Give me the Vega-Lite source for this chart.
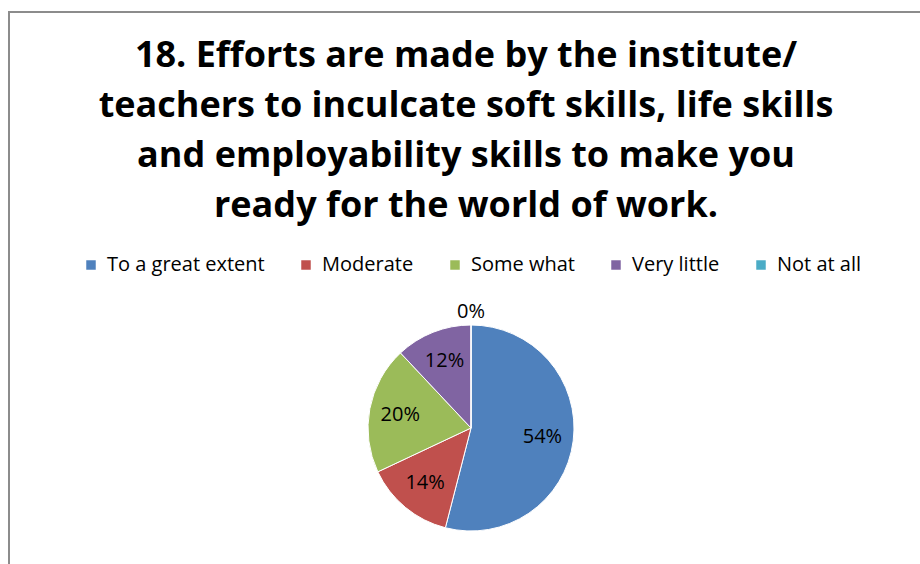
{
  "$schema": "https://vega.github.io/schema/vega-lite/v6.json",
  "autosize": {"type": "fit", "contains": "padding"},
  "width": 920,
  "height": 564,
  "padding": {"left": 8, "top": 11, "right": -4, "bottom": -4},
  "background": "white",
  "config": {
    "view": {"stroke": null},
    "font": "Open Sans"
  },
  "title": {
    "text": ["18. Efforts are made by the institute/", "teachers to inculcate soft skills, life skills", "and employability skills to make you", "ready for the world of work."],
    "font": "Open Sans",
    "fontSize": 36,
    "fontWeight": "bold",
    "color": "#000000",
    "lineHeight": 50,
    "anchor": "middle",
    "orient": "top",
    "offset": -214
  },
  "data": {
    "values": [
      {"category": "To a great extent", "pct": 54, "label": "54%", "ord": 1},
      {"category": "Moderate", "pct": 14, "label": "14%", "ord": 2},
      {"category": "Some what", "pct": 20, "label": "20%", "ord": 3},
      {"category": "Very little", "pct": 12, "label": "12%", "ord": 4},
      {"category": "Not at all", "pct": 0, "label": "0%", "ord": 5}
    ]
  },
  "layer": [
    {
      "data": {"values": [{"frame": 1}]},
      "mark": {"type": "rect", "fill": null, "stroke": "#8c8c8c", "strokeWidth": 2},
      "encoding": {}
    },
    {
      "mark": {"type": "arc", "radius": 103, "stroke": "white", "strokeWidth": 1, "xOffset": 5, "yOffset": 138.5},
      "encoding": {
        "theta": {"field": "pct", "type": "quantitative", "stack": true},
        "order": {"field": "ord", "type": "quantitative"},
        "color": {
          "field": "category",
          "type": "nominal",
          "sort": ["To a great extent", "Moderate", "Some what", "Very little", "Not at all"],
          "scale": {
            "domain": ["To a great extent", "Moderate", "Some what", "Very little", "Not at all"],
            "range": ["#4F81BD", "#C0504D", "#9BBB59", "#8064A2", "#4BACC6"]
          },
          "legend": {
            "title": null,
            "orient": "none",
            "direction": "horizontal",
            "legendX": 72,
            "legendY": 243,
            "symbolType": "square",
            "symbolSize": 90,
            "symbolStrokeWidth": 0,
            "labelFont": "Open Sans",
            "labelFontSize": 20,
            "labelColor": "#000000",
            "labelOffset": 6,
            "columnPadding": 31,
            "padding": 0
          }
        }
      }
    },
    {
      "transform": [{"filter": "datum.pct > 0"}],
      "mark": {"type": "text", "font": "Open Sans", "fontSize": 20, "color": "#000000", "radius": 72, "xOffset": 5, "yOffset": 138.5},
      "encoding": {
        "theta": {"field": "pct", "type": "quantitative", "stack": true},
        "order": {"field": "ord", "type": "quantitative"},
        "text": {"field": "label", "type": "nominal"}
      }
    },
    {
      "transform": [{"filter": "datum.pct === 0"}],
      "mark": {"type": "text", "font": "Open Sans", "fontSize": 20, "color": "#000000", "radius": 116, "xOffset": 5, "yOffset": 138.5},
      "encoding": {
        "theta": {"field": "pct", "type": "quantitative", "stack": true},
        "order": {"field": "ord", "type": "quantitative"},
        "text": {"field": "label", "type": "nominal"}
      }
    }
  ]
}
